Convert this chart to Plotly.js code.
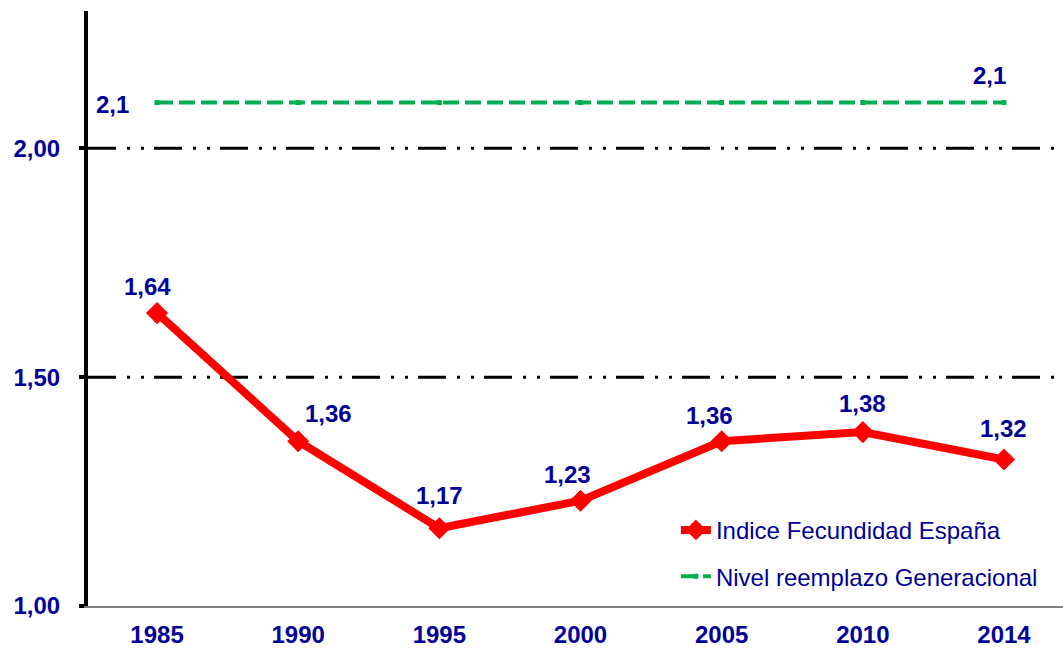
<!DOCTYPE html>
<html>
<head>
<meta charset="utf-8">
<script src="https://cdn.plot.ly/plotly-3.0.1.min.js"></script>
<style>html,body{margin:0;padding:0;background:#fff;}#chart{width:1063px;height:648px;}</style>
</head>
<body>
<div id="chart"></div>
<script>
// ---- data ----
const years = ['1985', '1990', '1995', '2000', '2005', '2010', '2014'];
const fecundidad = [1.64, 1.36, 1.17, 1.23, 1.36, 1.38, 1.32];
const reemplazo = [2.1, 2.1, 2.1, 2.1, 2.1, 2.1, 2.1];
const yTicks = [1.0, 1.5, 2.0];
const gridValues = [1.5, 2.0];
const seriesNames = ['Indice Fecundidad España', 'Nivel reemplazo Generacional'];

// ---- style config ----
const navy = '#000099';
const font = 'Arial, "Liberation Sans", sans-serif';
const labelShift = [[-10, 27], [30, 28], [0, 33], [-13, 26], [-12, 26], [0, 29], [0, 31]];

const fmt = (v, d) => v.toFixed(d).replace('.', ',');
const boldFont = {family: font, size: 24, color: navy, weight: 'bold'};

const traces = [
  {
    x: years, y: fecundidad, type: 'scatter', mode: 'lines+markers',
    name: seriesNames[0],
    line: {color: '#FF0000', width: 8},
    marker: {symbol: 'diamond', size: 17, color: '#FF0000'},
    legendgroup: 'a'
  },
  {
    x: years, y: reemplazo, type: 'scatter', mode: 'lines+markers',
    name: seriesNames[1],
    line: {color: '#00B050', width: 4, dash: '16px,6px'},
    marker: {symbol: 'square', size: 5, color: '#00B050'},
    legendgroup: 'b'
  }
];

const annotations = fecundidad.map((v, i) => ({
  x: i, y: v, xref: 'x', yref: 'y', text: fmt(v, 2), showarrow: false,
  xshift: labelShift[i][0], yshift: labelShift[i][1],
  font: boldFont
}));
annotations.push({
  x: 0, y: reemplazo[0], xref: 'x', yref: 'y', text: fmt(reemplazo[0], 1), showarrow: false,
  xshift: -45, yshift: -2, font: boldFont
});
annotations.push({
  x: years.length - 1, y: reemplazo[reemplazo.length - 1], xref: 'x', yref: 'y',
  text: fmt(reemplazo[reemplazo.length - 1], 1), showarrow: false,
  xshift: -14, yshift: 27, font: boldFont
});

const shapes = gridValues.map(g => ({
  type: 'line', xref: 'paper', x0: 0, x1: 1, yref: 'y', y0: g, y1: g, layer: 'below',
  line: {color: '#000000', width: 3, dash: '28px,11px,3px,11px,3px,10px'}
}));

const layout = {
  width: 1063, height: 648,
  margin: {l: 88, r: 0, t: 11, b: 42},
  paper_bgcolor: '#ffffff', plot_bgcolor: '#ffffff',
  showlegend: true,
  legend: {
    x: 0.603, y: 0.165, xanchor: 'left', yanchor: 'top',
    bgcolor: 'rgba(0,0,0,0)', traceorder: 'grouped', tracegroupgap: 12,
    font: {family: font, size: 24, color: navy}
  },
  xaxis: {
    type: 'category', range: [-0.489, 6.418],
    showgrid: false, zeroline: false,
    showline: true, linecolor: '#808080', linewidth: 1.5,
    ticks: '', ticklabelstandoff: 7,
    tickfont: boldFont
  },
  yaxis: {
    range: [1, 2.3], tickvals: yTicks, ticktext: yTicks.map(v => fmt(v, 2)),
    showgrid: false, zeroline: false,
    showline: true, linecolor: '#000000', linewidth: 4,
    ticks: 'outside', ticklen: 5, tickwidth: 4, tickcolor: '#000000',
    ticklabelstandoff: 14,
    tickfont: boldFont
  },
  shapes: shapes,
  annotations: annotations
};

Plotly.newPlot('chart', traces, layout, {staticPlot: true, displayModeBar: false});
</script>
</body>
</html>
